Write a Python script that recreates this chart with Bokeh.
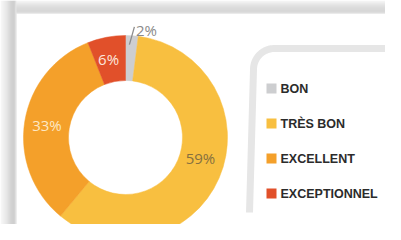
import numpy as np
from bokeh.plotting import figure
from bokeh.models import ColumnDataSource, Range1d
from bokeh.embed import file_html
from bokeh.resources import INLINE
from bokeh.core.properties import value

# ---- data ----
categories = ["BON", "TRÈS BON", "EXCELLENT", "EXCEPTIONNEL"]
shares = [2, 59, 33, 6]
labels = ["2%", "59%", "33%", "6%"]
colors = ["#cdced0", "#f8bf40", "#f4a02a", "#e1502a"]
label_colors = ["#8a8a8a", "#86703f", "#fde8c4", "#fce6dc"]

# ---- layout (reference pixel coordinates, y measured downward) ----
W, H = 385, 224
def Y(ry):
    return H - ry

CX, CY = 125, Y(137)
R_IN, R_OUT = 57, 102
label_nudge = [(0, 0), (2, -11), (0, 0), (-2, 0)]

p = figure(width=W, height=H, x_range=Range1d(0, W), y_range=Range1d(0, H),
           output_backend="svg", toolbar_location=None, min_border=0)
p.axis.visible = False
p.grid.visible = False
p.outline_line_color = None
p.background_fill_color = "white"
p.border_fill_color = "white"

# photographed card shadow (decoration)
left_greys = [0xf6, 0xf2, 0xee, 0xea, 0xe6, 0xe2, 0xdd, 0xd8, 0xd2, 0xcc, 0xc6, 0xc2, 0xc0, 0xc0, 0xc6, 0xdc]
for i, g in enumerate(left_greys):
    p.quad(left=i, right=i + 1, bottom=-5, top=Y(0), fill_color="#%02x%02x%02x" % (g, g, g), line_color=None)
top_greys = [0xf4, 0xee, 0xe8, 0xe2, 0xdc, 0xd8, 0xd4, 0xd0, 0xcd, 0xcb, 0xca, 0xcc, 0xd6]
for i, g in enumerate(top_greys):
    p.quad(left=16, right=W + 5, bottom=Y(i + 1), top=Y(i), fill_color="#%02x%02x%02x" % (g, g, g), line_color=None)

# legend frame (decoration)
t = np.linspace(np.pi, np.pi / 2, 30)
fx = [249] + list(274 + 21 * np.cos(t)) + [W + 5]
fy = [Y(212)] + list(Y(69) + 21 * np.sin(t)) + [Y(48)]
p.line(fx, fy, line_width=7, line_color="#e6e6e6")

# donut
vals = np.array(shares, dtype=float)
frac = vals / vals.sum()
c1 = np.cumsum(frac)
c0 = c1 - frac
start = np.pi / 2 - c1 * 2 * np.pi
end = np.pi / 2 - c0 * 2 * np.pi
src = ColumnDataSource(dict(cat=categories, start=start, end=end, color=colors))
p.annular_wedge(x=CX, y=CY, inner_radius=R_IN, outer_radius=R_OUT,
                start_angle="start", end_angle="end", fill_color="color",
                line_color="color", line_width=0.5, source=src)

# slice labels
mid = np.pi / 2 - (c0 + c1) * np.pi
r_mid = (R_IN + R_OUT) / 2
lx, ly, lcol, ltxt = [], [], [], []
for i in range(1, 4):
    lx.append(CX + r_mid * np.cos(mid[i]) + label_nudge[i][0])
    ly.append(CY + r_mid * np.sin(mid[i]) - label_nudge[i][1])
    lcol.append(label_colors[i])
    ltxt.append(labels[i])
p.text(x=lx, y=ly, text=ltxt, text_color=lcol, text_align="center", text_baseline="middle",
       text_font=value("Open Sans"), text_font_size="15px")

# outside label for smallest slice with leader line
a0 = mid[0] + np.radians(1.2)
a1 = mid[0] - np.radians(1.0)
x_a, y_a = CX + 93 * np.cos(a0), CY + 93 * np.sin(a0)
x_b, y_b = CX + 111 * np.cos(a1), CY + 111 * np.sin(a1)
p.segment(x0=[x_a], y0=[y_a], x1=[x_b], y1=[y_b], line_color="#8c8c8c", line_width=1.3)
p.text(x=[x_b + 1.5], y=[y_b - 3.5], text=[labels[0]], text_color=label_colors[0],
       text_align="left", text_baseline="middle", text_font=value("Open Sans"), text_font_size="15px")

# legend
ly0, lstep = 88, 35
leg_y = [Y(ly0 + lstep * i) for i in range(len(categories))]
p.scatter(x=[271] * len(categories), y=leg_y, marker="square", size=10,
          fill_color=colors, line_color=None)
p.text(x=[280] * len(categories), y=leg_y, text=categories, text_color="#2b2b2b",
       text_align="left", text_baseline="middle", text_font=value("Liberation Sans"),
       text_font_size="12.5px", text_font_style="bold")

open("out.html", "w").write(file_html(p, INLINE))
